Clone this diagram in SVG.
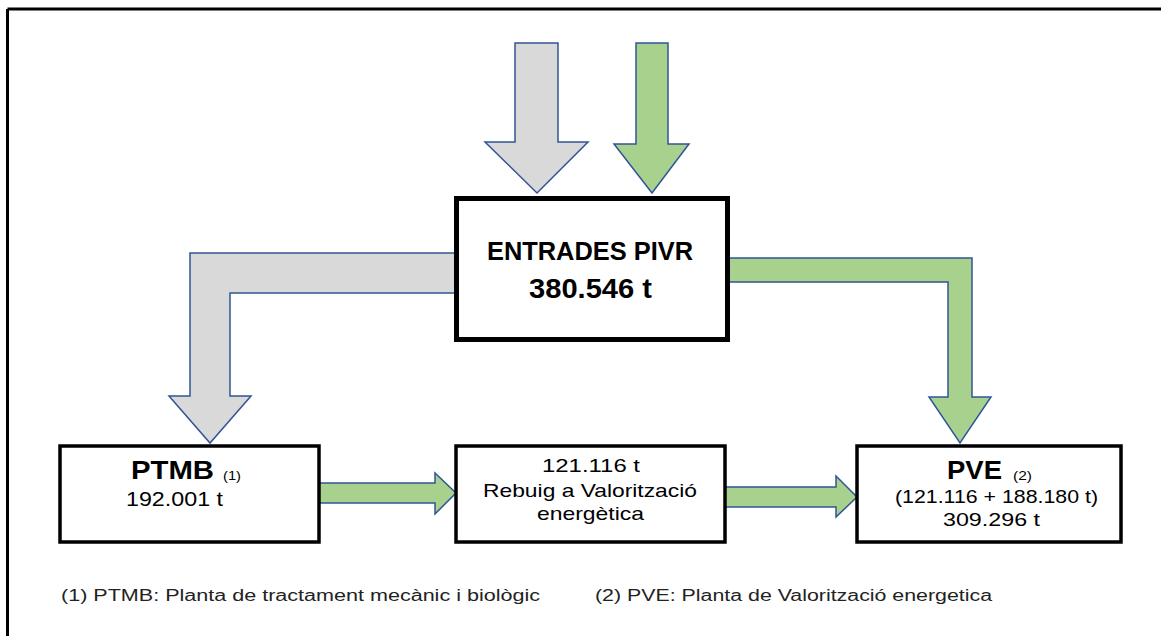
<svg xmlns="http://www.w3.org/2000/svg" width="1161" height="636" viewBox="0 0 1161 636">
<style>
.box{fill:#fff;stroke:#000;stroke-width:3.5}
.big{fill:#fff;stroke:#000;stroke-width:5}
.gray{fill:#D9D9D9;stroke:#2F5597;stroke-width:1.5;stroke-linejoin:miter}
.green{fill:#A9D18E;stroke:#2F5597;stroke-width:1.5;stroke-linejoin:miter}
.t{font-family:"Liberation Sans",Arial,sans-serif;fill:#000}
.b{font-weight:bold}
.fn{font-family:"Liberation Sans",Arial,sans-serif;fill:#222;font-size:16px}
</style>
<rect x="0" y="0" width="1161" height="636" fill="#fff"/>
<g id="frame">
<line x1="7.5" y1="9" x2="1161" y2="9" stroke="#000" stroke-width="3"/>
<line x1="7.5" y1="9" x2="7.5" y2="636" stroke="#000" stroke-width="3"/>
</g>
<g id="connectors">
<polygon class="gray" points="515,43 558,43 558,142 588,142 537,193 485,142 515,142"/>
<polygon class="green" points="636,43 668,43 668,144 689,144 652,193 614,144 636,144"/>
<polygon class="gray" points="456,253 190,253 190,396 169,396 210,443 251,396 230,396 230,293 456,293"/>
<polygon class="green" points="728,258 972,258 972,397 991,397 960,443 929,397 948,397 948,282 728,282"/>
<polygon class="green" points="319,483 435,483 435,473 456,493 435,514 435,503 319,503"/>
<polygon class="green" points="725,487 836,487 836,476 857,497 836,517 836,507 725,507"/>
</g>
<g id="entrades">
<rect class="big" x="456.5" y="198.5" width="271" height="141"/>
<text class="t b" x="487" y="260" font-size="26" textLength="206" lengthAdjust="spacingAndGlyphs">ENTRADES PIVR</text>
<text class="t b" x="529" y="298" font-size="27" textLength="123" lengthAdjust="spacingAndGlyphs">380.546 t</text>
</g>
<g id="ptmb">
<rect class="box" x="60" y="446" width="259" height="96"/>
<text class="t b" x="131" y="479" font-size="26" textLength="83" lengthAdjust="spacingAndGlyphs">PTMB</text>
<text class="t" x="223" y="480" font-size="12" textLength="18" lengthAdjust="spacingAndGlyphs">(1)</text>
<text class="t" x="126" y="506" font-size="20" textLength="97" lengthAdjust="spacingAndGlyphs">192.001 t</text>
</g>
<g id="rebuig">
<rect class="box" x="456" y="446" width="269" height="96"/>
<text class="t" x="542" y="472" font-size="19" textLength="98" lengthAdjust="spacingAndGlyphs">121.116 t</text>
<text class="t" x="483" y="497" font-size="19" textLength="214" lengthAdjust="spacingAndGlyphs">Rebuig a Valorització</text>
<text class="t" x="537" y="520" font-size="19" textLength="107" lengthAdjust="spacingAndGlyphs">energètica</text>
</g>
<g id="pve">
<rect class="box" x="857" y="446" width="264" height="96"/>
<text class="t b" x="947" y="479" font-size="26" textLength="55" lengthAdjust="spacingAndGlyphs">PVE</text>
<text class="t" x="1013" y="480" font-size="12" textLength="19" lengthAdjust="spacingAndGlyphs">(2)</text>
<text class="t" x="895" y="503" font-size="19" textLength="203" lengthAdjust="spacingAndGlyphs">(121.116 + 188.180 t)</text>
<text class="t" x="943" y="526" font-size="19" textLength="97" lengthAdjust="spacingAndGlyphs">309.296 t</text>
</g>
<g id="footnotes">
<text class="fn" x="61" y="601" textLength="479" lengthAdjust="spacingAndGlyphs">(1)  PTMB: Planta de tractament mecànic i biològic</text>
<text class="fn" x="595" y="601" textLength="397" lengthAdjust="spacingAndGlyphs">(2) PVE: Planta de Valorització energetica</text>
</g>
</svg>
